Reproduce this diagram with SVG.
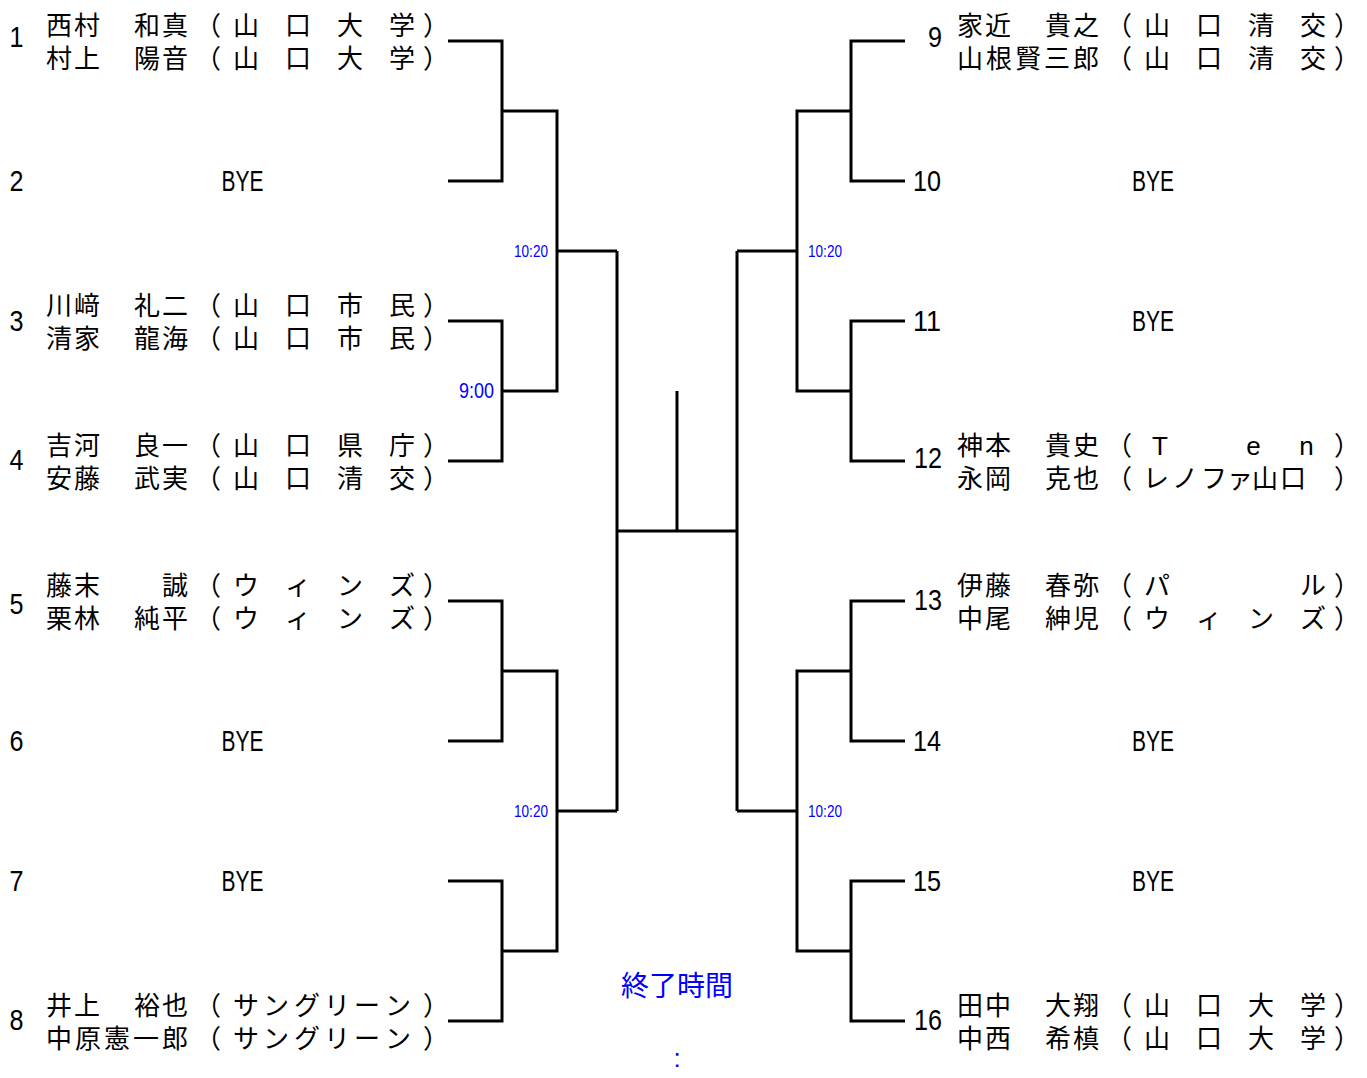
<svg xmlns="http://www.w3.org/2000/svg" width="1367" height="1078" viewBox="0 0 1367 1078">
<style>
.ln{stroke:#000;stroke-width:3;fill:none;stroke-linejoin:miter}
.t{font-family:"Noto Sans CJK JP","Noto Sans CJK SC",sans-serif;font-size:26px;fill:#000}
.num{font-family:"Liberation Sans",Arial,sans-serif;font-size:30px;fill:#000}
.nl{text-anchor:middle}
.nr{text-anchor:end}
.bye{font-family:"Liberation Sans",Arial,sans-serif;font-size:30px;fill:#000;text-anchor:middle}
.tm{font-family:"Liberation Sans",Arial,sans-serif;fill:#0000ff;text-anchor:end}
.c{text-anchor:middle}
</style>
<rect width="1367" height="1078" fill="#fff"/>
<g id="connectors">
<path class="ln" d="M448 41H502V181H448M448 321H502V461H448M502 111H557V391H502M557 251H617"/>
<path class="ln" d="M448 601H502V741H448M448 881H502V1021H448M502 671H557V951H502M557 811H617"/>
<path class="ln" d="M617 251V811M617 531H737M677 391V531"/>
<path class="ln" d="M905 41H851V181H905M905 321H851V461H905M851 111H797V391H851M797 251H737"/>
<path class="ln" d="M905 601H851V741H905M905 881H851V1021H905M851 671H797V951H851M797 811H737"/>
<path class="ln" d="M737 251V811"/>
</g>
<g id="times">
<text class="tm" x="548" y="257" font-size="16" textLength="34" lengthAdjust="spacingAndGlyphs">10:20</text>
<text class="tm" x="548" y="817" font-size="16" textLength="34" lengthAdjust="spacingAndGlyphs">10:20</text>
<text class="tm" x="842" y="257" font-size="16" textLength="34" lengthAdjust="spacingAndGlyphs">10:20</text>
<text class="tm" x="842" y="817" font-size="16" textLength="34" lengthAdjust="spacingAndGlyphs">10:20</text>
<text class="tm" x="494" y="398" font-size="22" textLength="35" lengthAdjust="spacingAndGlyphs">9:00</text>
<text class="t c" x="677" y="996" style="fill:#0000ff;font-size:28px">終了時間</text>
<text class="tm c" x="677" y="1067" font-size="26" style="text-anchor:middle">:</text>
</g>
<g id="entry1">
<text class="num nl" x="16.5" y="47" textLength="14" lengthAdjust="spacingAndGlyphs">1</text>
<text class="t" x="46 74 134 162 195 233 285 337 389 423" y="35">西村和真（山口大学）</text>
<text class="t" x="46 74 134 162 195 233 285 337 389 423" y="68">村上陽音（山口大学）</text>
</g>
<g id="entry2">
<text class="num nl" x="16.5" y="191" textLength="14" lengthAdjust="spacingAndGlyphs">2</text>
<text class="bye" x="242.5" y="191" textLength="42" lengthAdjust="spacingAndGlyphs">BYE</text>
</g>
<g id="entry3">
<text class="num nl" x="16.5" y="331" textLength="14" lengthAdjust="spacingAndGlyphs">3</text>
<text class="t" x="46 74 134 162 195 233 285 337 389 423" y="315">川﨑礼二（山口市民）</text>
<text class="t" x="46 74 134 162 195 233 285 337 389 423" y="348">清家龍海（山口市民）</text>
</g>
<g id="entry4">
<text class="num nl" x="16.5" y="470" textLength="14" lengthAdjust="spacingAndGlyphs">4</text>
<text class="t" x="46 74 134 162 195 233 285 337 389 423" y="455">吉河良一（山口県庁）</text>
<text class="t" x="46 74 134 162 195 233 285 337 389 423" y="488">安藤武実（山口清交）</text>
</g>
<g id="entry5">
<text class="num nl" x="16.5" y="614" textLength="14" lengthAdjust="spacingAndGlyphs">5</text>
<text class="t" x="46 74 162 195 233 285 337 389 423" y="595">藤末誠（ウィンズ）</text>
<text class="t" x="46 74 134 162 195 233 285 337 389 423" y="628">栗林純平（ウィンズ）</text>
</g>
<g id="entry6">
<text class="num nl" x="16.5" y="751" textLength="14" lengthAdjust="spacingAndGlyphs">6</text>
<text class="bye" x="242.5" y="751" textLength="42" lengthAdjust="spacingAndGlyphs">BYE</text>
</g>
<g id="entry7">
<text class="num nl" x="16.5" y="891" textLength="14" lengthAdjust="spacingAndGlyphs">7</text>
<text class="bye" x="242.5" y="891" textLength="42" lengthAdjust="spacingAndGlyphs">BYE</text>
</g>
<g id="entry8">
<text class="num nl" x="16.5" y="1030" textLength="14" lengthAdjust="spacingAndGlyphs">8</text>
<text class="t" x="46 74 134 162 195 233 263 294 324 354 385 423" y="1015">井上裕也（サングリーン）</text>
<text class="t" x="46 75 104 133 162 195 233 263 294 324 354 385 423" y="1048">中原憲一郎（サングリーン）</text>
</g>
<g id="entry9">
<text class="num nr" x="942" y="47" textLength="14" lengthAdjust="spacingAndGlyphs">9</text>
<text class="t" x="957 985 1045 1073 1106 1144 1196 1248 1300 1334" y="35">家近貴之（山口清交）</text>
<text class="t" x="957 986 1015 1044 1073 1106 1144 1196 1248 1300 1334" y="68">山根賢三郎（山口清交）</text>
</g>
<g id="entry10">
<text class="num nr" x="941" y="191" textLength="28" lengthAdjust="spacingAndGlyphs">10</text>
<text class="bye" x="1153" y="191" textLength="42" lengthAdjust="spacingAndGlyphs">BYE</text>
</g>
<g id="entry11">
<text class="num nr" x="941" y="331" textLength="28" lengthAdjust="spacingAndGlyphs">11</text>
<text class="bye" x="1153" y="331" textLength="42" lengthAdjust="spacingAndGlyphs">BYE</text>
</g>
<g id="entry12">
<text class="num nr" x="942" y="468" textLength="28" lengthAdjust="spacingAndGlyphs">12</text>
<text class="t" x="957 985 1045 1073 1106" y="455">神本貴史（</text>
<text class="t c" x="1160" y="455" style="font-family:'Liberation Sans',sans-serif">T</text>
<text class="t c" x="1253.5" y="455" style="font-family:'Liberation Sans',sans-serif">e</text>
<text class="t c" x="1306.5" y="455" style="font-family:'Liberation Sans',sans-serif">n</text>
<text class="t" x="1334" y="455">）</text>
<text class="t" x="957 985 1045 1073 1106 1143 1172 1201 1227 1252 1280 1334" y="488">永岡克也（レノファ山口）</text>
</g>
<g id="entry13">
<text class="num nr" x="942" y="610" textLength="28" lengthAdjust="spacingAndGlyphs">13</text>
<text class="t" x="957 985 1045 1073 1106 1144 1300 1334" y="595">伊藤春弥（パル）</text>
<text class="t" x="957 985 1045 1073 1106 1144 1196 1248 1300 1334" y="628">中尾紳児（ウィンズ）</text>
</g>
<g id="entry14">
<text class="num nr" x="941" y="751" textLength="28" lengthAdjust="spacingAndGlyphs">14</text>
<text class="bye" x="1153" y="751" textLength="42" lengthAdjust="spacingAndGlyphs">BYE</text>
</g>
<g id="entry15">
<text class="num nr" x="941" y="891" textLength="28" lengthAdjust="spacingAndGlyphs">15</text>
<text class="bye" x="1153" y="891" textLength="42" lengthAdjust="spacingAndGlyphs">BYE</text>
</g>
<g id="entry16">
<text class="num nr" x="942" y="1030" textLength="28" lengthAdjust="spacingAndGlyphs">16</text>
<text class="t" x="957 985 1045 1073 1106 1144 1196 1248 1300 1334" y="1015">田中大翔（山口大学）</text>
<text class="t" x="957 985 1045 1073 1106 1144 1196 1248 1300 1334" y="1048">中西希槙（山口大学）</text>
</g>
</svg>
